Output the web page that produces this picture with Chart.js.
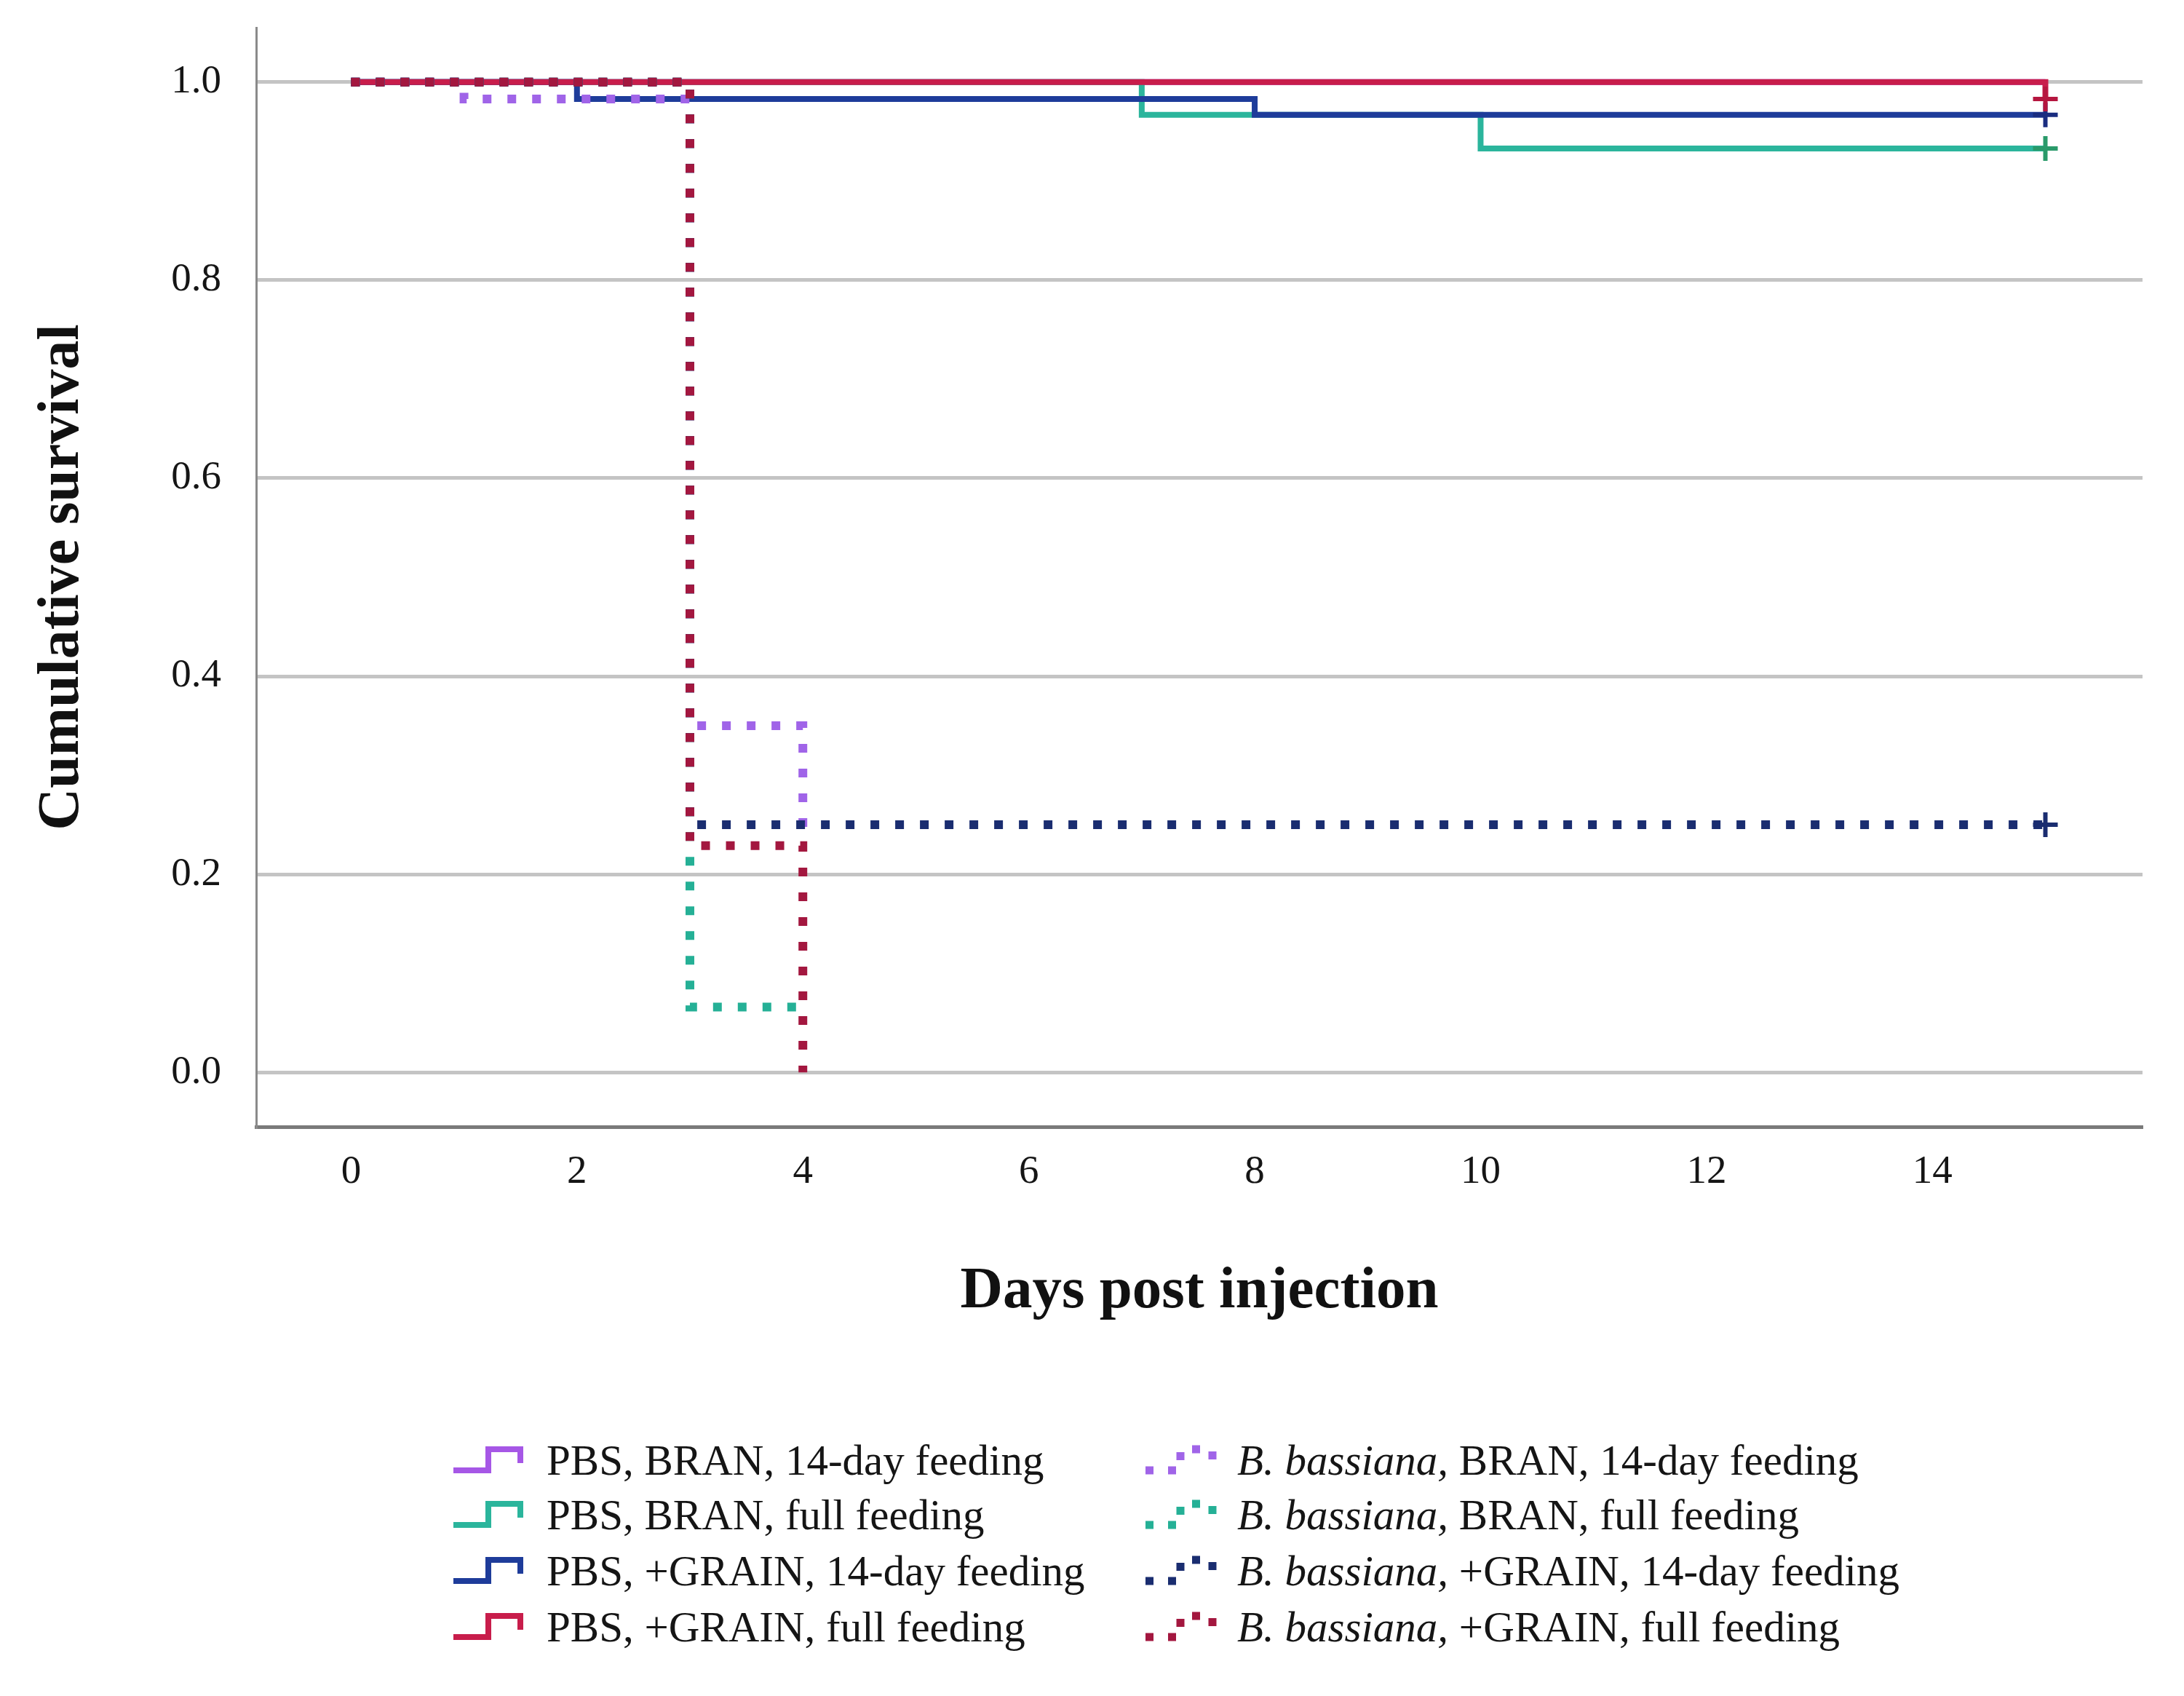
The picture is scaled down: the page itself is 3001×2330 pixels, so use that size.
<!DOCTYPE html>
<html><head><meta charset="utf-8">
<script src="https://cdn.jsdelivr.net/npm/chart.js@4.4.1/dist/chart.umd.min.js"></script>
<style>
html,body{margin:0;padding:0;background:#fff;}
#wrap{position:relative;width:3001px;height:2330px;overflow:hidden;background:#fff;}
#cbox{position:absolute;left:0;top:0;width:3001px;height:1900px;}
#legend{position:absolute;left:0;top:0;width:3001px;height:2330px;font-family:"Liberation Serif",serif;font-size:59px;color:#151515;}
.item{position:absolute;display:flex;align-items:center;white-space:nowrap;height:72px;transform:translateY(-36px);}
.item canvas{display:block;}
.item span.t{display:block;}
</style></head><body>
<div id="wrap"><div id="cbox"><canvas id="c"></canvas></div><div id="legend"></div></div>
<script>
// ---- data ----
const seriesLabels = [
  'PBS, BRAN, 14-day feeding',
  'PBS, BRAN, full feeding',
  'PBS, +GRAIN, 14-day feeding',
  'PBS, +GRAIN, full feeding',
  'B. bassiana, BRAN, 14-day feeding',
  'B. bassiana, BRAN, full feeding',
  'B. bassiana, +GRAIN, 14-day feeding',
  'B. bassiana, +GRAIN, full feeding'
];
const pbsBran14Days      = [0, 15];
const pbsBran14Surv      = [1.0, 1.0];
const pbsBranFullDays    = [0, 7, 10, 15];
const pbsBranFullSurv    = [1.0, 0.967, 0.933, 0.933];
const pbsGrain14Days     = [0, 2, 8, 15];
const pbsGrain14Surv     = [1.0, 0.983, 0.967, 0.967];
const pbsGrainFullDays   = [0, 15];
const pbsGrainFullSurv   = [1.0, 0.983];
const bbBran14Days       = [0, 1, 3, 4];
const bbBran14Surv       = [1.0, 0.983, 0.35, 0.234];
const bbBranFullDays     = [0, 3, 4];
const bbBranFullSurv     = [1.0, 0.066, 0.066];
const bbGrain14Days      = [0, 3, 15];
const bbGrain14Surv      = [1.0, 0.25, 0.25];
const bbGrainFullDays    = [0, 3, 4];
const bbGrainFullSurv    = [1.0, 0.229, 0.0];
const censoredAtEnd      = [false, true, true, true, false, false, true, false];
const xTickValues = [0, 2, 4, 6, 8, 10, 12, 14];
const yTickValues = [0.0, 0.2, 0.4, 0.6, 0.8, 1.0];
const xAxisTitle = 'Days post injection';
const yAxisTitle = 'Cumulative survival';

// ---- styles ----
const allDays = [pbsBran14Days, pbsBranFullDays, pbsGrain14Days, pbsGrainFullDays, bbBran14Days, bbBranFullDays, bbGrain14Days, bbGrainFullDays];
const allSurv = [pbsBran14Surv, pbsBranFullSurv, pbsGrain14Surv, pbsGrainFullSurv, bbBran14Surv, bbBranFullSurv, bbGrain14Surv, bbGrainFullSurv];
const colors = ['#a657e6', '#2bb59c', '#1e3c9a', '#c81d4b', '#a064e8', '#25b096', '#1a2d70', '#a3173f'];
const markColors = ['#a657e6', '#2a9a6a', '#1a2d80', '#b5163f', '#a064e8', '#25b096', '#1a2d70', '#a3173f'];
const dotted = [false, false, false, false, true, true, true, true];
const drawOrder = [7, 6, 5, 4, 3, 2, 1, 0];
const DASH = [12, 22];

const datasets = seriesLabels.map((lab, i) => {
  const pts = allDays[i].map((d, j) => ({x: d, y: allSurv[i][j]}));
  const last = pts.length - 1;
  return {
    label: lab,
    data: pts,
    stepped: true,
    borderColor: colors[i],
    backgroundColor: colors[i],
    borderWidth: dotted[i] ? 12 : 8,
    borderDash: dotted[i] ? DASH : [],
    borderCapStyle: 'butt',
    borderJoinStyle: 'miter',
    fill: false,
    order: drawOrder[i],
    pointStyle: 'cross',
    pointRadius: ctx => (censoredAtEnd[i] && ctx.dataIndex === last) ? 17 : 0,
    pointBorderWidth: 6,
    pointBorderColor: markColors[i],
    pointHoverRadius: 0
  };
});

const serif = '"Liberation Serif", serif';
Chart.defaults.font.family = serif;
Chart.defaults.color = '#151515';

const chart = new Chart(document.getElementById('c'), {
  type: 'line',
  data: {datasets},
  options: {
    responsive: true,
    maintainAspectRatio: false,
    devicePixelRatio: 1,
    animation: false,
    events: [],
    layout: {padding: {top: 38, right: 57, left: 0, bottom: 0}},
    plugins: {legend: {display: false}, tooltip: {enabled: false}},
    scales: {
      x: {
        type: 'linear',
        min: -0.84, max: 15.86,
        afterBuildTicks: s => { s.ticks = xTickValues.map(v => ({value: v})); },
        afterFit: s => { s.height = 352; s.paddingLeft = 0; s.paddingRight = 0; },
        ticks: {callback: v => String(v), padding: 30, font: {size: 55}, color: '#151515', maxRotation: 0, autoSkip: false},
        grid: {display: false, drawTicks: false},
        border: {display: true, color: '#7a7a7a', width: 5},
        title: {display: true, text: xAxisTitle, font: {size: 81, weight: 'bold'}, color: '#111', padding: {top: 86, bottom: 76}}
      },
      y: {
        type: 'linear',
        min: -0.055, max: 1.055,
        afterBuildTicks: s => { s.ticks = yTickValues.map(v => ({value: v})); },
        afterFit: s => { s.width = 352; s.paddingTop = 0; s.paddingBottom = 0; },
        ticks: {callback: v => Number(v).toFixed(1), padding: 48, font: {size: 55}, color: '#151515', autoSkip: false},
        grid: {display: true, color: '#c4c4c4', lineWidth: 5, drawTicks: false},
        border: {display: true, color: '#8a8a8a', width: 3},
        title: {display: true, text: yAxisTitle, font: {size: 80, weight: 'bold'}, color: '#111', padding: {top: 38, bottom: 0}}
      }
    }
  }
});

// ---- HTML legend built from the chart's datasets ----
const legendCols = [619, 1570];
const legendRows = [2006, 2081, 2158, 2235];
const legendEl = document.getElementById('legend');
chart.data.datasets.forEach((ds, i) => {
  const col = Math.floor(i / 4), row = i % 4;
  const item = document.createElement('div');
  item.className = 'item';
  item.style.left = legendCols[col] + 'px';
  item.style.top = legendRows[row] + 'px';
  const ic = document.createElement('canvas');
  ic.width = 104; ic.height = 48;
  ic.style.marginRight = (col === 0 ? 28 : 26) + 'px';
  const g = ic.getContext('2d');
  g.strokeStyle = ds.borderColor;
  g.lineWidth = dotted[i] ? 11 : 8;
  g.lineCap = 'butt';
  g.lineJoin = 'miter';
  g.setLineDash(dotted[i] ? [11, 20] : []);
  g.beginPath();
  g.moveTo(4, 38); g.lineTo(52, 38); g.lineTo(52, 9); g.lineTo(96, 9); g.lineTo(96, 28);
  g.stroke();
  const t = document.createElement('span');
  t.className = 't';
  const m = ds.label.match(/^(B\. bassiana,)(.*)$/);
  if (m) {
    const it = document.createElement('i');
    it.textContent = m[1];
    t.appendChild(it);
    t.appendChild(document.createTextNode(m[2]));
  } else {
    t.textContent = ds.label;
  }
  item.appendChild(ic);
  item.appendChild(t);
  legendEl.appendChild(item);
});
</script>
</body></html>
